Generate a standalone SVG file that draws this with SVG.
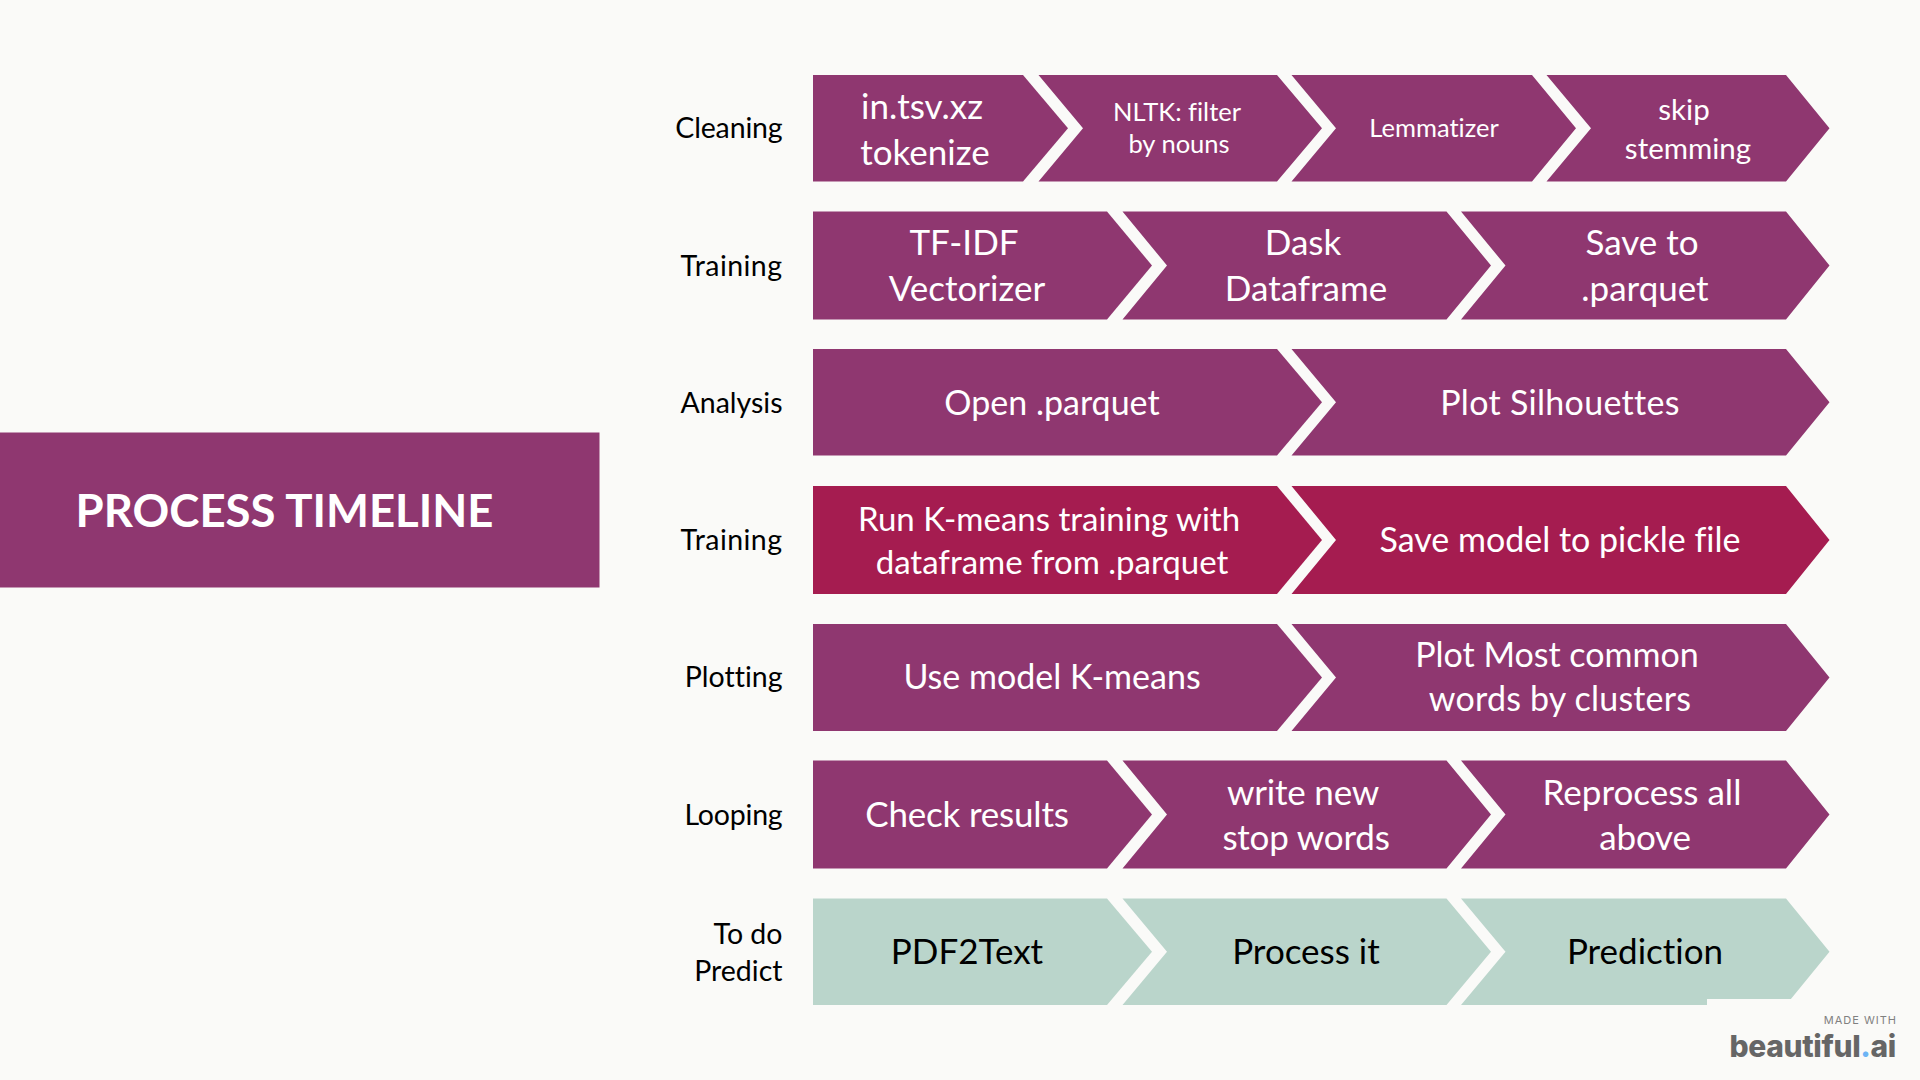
<svg xmlns="http://www.w3.org/2000/svg" width="1920" height="1080" viewBox="0 0 1920 1080">
<style>
text{font-family:Lato,"Liberation Sans",sans-serif;font-variant-ligatures:none}
.p{fill:#8f3770}.r{fill:#a51c50}.g{fill:#bad5cb}
.w{fill:#fff;text-anchor:middle}.k{fill:#000;text-anchor:middle}
.l{fill:#000;text-anchor:end;font-size:28.5px}
.s37{font-size:35px}.s25{font-size:25.5px}.s31{font-size:29.5px}.s34{font-size:34px}.s33{font-size:33px}
.wide{letter-spacing:.45px}
</style>
<rect width="1920" height="1080" fill="#fafaf8"/>
<g id="title"><rect class="p" x="0" y="432.5" width="599.5" height="155"/><text x="284.5" y="527" font-size="45.5" font-weight="700" fill="#fff" text-anchor="middle">PROCESS TIMELINE</text></g>
<g id="row-cleaning">
<text class="l" x="782.5" y="138" letter-spacing="-.15">Cleaning</text>
<polygon class="p" points="813,75 1023,75 1068,128.2 1023,181.5 813,181.5"/>
<polygon class="p" points="1038.5,75 1277,75 1322,128.2 1277,181.5 1038.5,181.5 1083,128.2"/>
<polygon class="p" points="1291.5,75 1532,75 1576,128.2 1532,181.5 1291.5,181.5 1336,128.2"/>
<polygon class="p" points="1546.5,75 1786,75 1829.5,128.2 1786,181.5 1546.5,181.5 1591,128.2"/>
<text class="w s37" x="922" y="119">in.tsv.xz</text><text class="w s37" x="925" y="164.5">tokenize</text>
<text class="w s25" x="1177" y="121">NLTK: filter</text><text class="w s25" x="1179" y="153">by nouns</text>
<text class="w s25" x="1434" y="137">Lemmatizer</text>
<text class="w s31" x="1684" y="120">skip</text><text class="w s31" x="1688" y="158.5">stemming</text>
</g>
<g id="row-training-1">
<text class="l wide" x="782.5" y="276">Training</text>
<polygon class="p" points="813,211.5 1107,211.5 1152,265.5 1107,319.5 813,319.5"/>
<polygon class="p" points="1122.5,211.5 1446.5,211.5 1491,265.5 1446.5,319.5 1122.5,319.5 1167,265.5"/>
<polygon class="p" points="1461,211.5 1786,211.5 1829.5,265.5 1786,319.5 1461,319.5 1505.5,265.5"/>
<text class="w s37" x="964" y="255">TF-IDF</text><text class="w s37" x="967" y="301">Vectorizer</text>
<text class="w s37" x="1303" y="255">Dask</text><text class="w s37" x="1306" y="301">Dataframe</text>
<text class="w s37" x="1642" y="255">Save to</text><text class="w s37" x="1645" y="301">.parquet</text>
</g>
<g id="row-analysis">
<text class="l" x="782.5" y="413">Analysis</text>
<polygon class="p" points="813,349 1277,349 1322,402.2 1277,455.5 813,455.5"/>
<polygon class="p" points="1291.5,349 1786,349 1829.5,402.2 1786,455.5 1291.5,455.5 1336,402.2"/>
<text class="w s34" x="1052" y="414.5">Open .parquet</text>
<text class="w s34" x="1560" y="414.5" letter-spacing=".3">Plot Silhouettes</text>
</g>
<g id="row-training-2">
<text class="l wide" x="782.5" y="550">Training</text>
<polygon class="r" points="813,486 1277,486 1322,540 1277,594 813,594"/>
<polygon class="r" points="1291.5,486 1786,486 1829.5,540 1786,594 1291.5,594 1336,540"/>
<text class="w s33" x="1049" y="530.5">Run K-means training with</text><text class="w s33" x="1052" y="573.5">dataframe from .parquet</text>
<text class="w s34" x="1560" y="551.5">Save model to pickle file</text>
</g>
<g id="row-plotting">
<text class="l" x="782.5" y="687">Plotting</text>
<polygon class="p" points="813,624 1277,624 1322,677.5 1277,731 813,731"/>
<polygon class="p" points="1291.5,624 1786,624 1829.5,677.5 1786,731 1291.5,731 1336,677.5"/>
<text class="w s34" x="1052" y="689">Use model K-means</text>
<text class="w s34" x="1557" y="667">Plot Most common</text><text class="w s34" x="1560" y="711" letter-spacing=".2">words by clusters</text>
</g>
<g id="row-looping">
<text class="l" x="782.5" y="825" letter-spacing="-.2">Looping</text>
<polygon class="p" points="813,760.5 1107,760.5 1152,814.5 1107,868.5 813,868.5"/>
<polygon class="p" points="1122.5,760.5 1446.5,760.5 1491,814.5 1446.5,868.5 1122.5,868.5 1167,814.5"/>
<polygon class="p" points="1461,760.5 1786,760.5 1829.5,814.5 1786,868.5 1461,868.5 1505.5,814.5"/>
<text class="w s37" x="967" y="827" letter-spacing="-.2">Check results</text>
<text class="w s37" x="1303" y="804.5" letter-spacing="-.2">write new</text><text class="w s37" x="1306" y="850" letter-spacing="-.2">stop words</text>
<text class="w s37" x="1642" y="804.5">Reprocess all</text><text class="w s37" x="1645" y="850" letter-spacing="-.2">above</text>
</g>
<g id="row-todo">
<text class="l" x="782.5" y="944">To do</text><text class="l" x="782.5" y="981">Predict</text>
<polygon class="g" points="813,898.5 1107,898.5 1152,951.7 1107,1005 813,1005"/>
<polygon class="g" points="1122.5,898.5 1446.5,898.5 1491,951.7 1446.5,1005 1122.5,1005 1167,951.7"/>
<polygon class="g" points="1461,898.5 1786,898.5 1829.5,951.7 1786,1005 1461,1005 1505.5,951.7"/>
<text class="k s37" x="967" y="964">PDF2Text</text>
<text class="k s37" x="1306" y="964">Process it</text>
<text class="k s37" x="1645" y="964">Prediction</text>
</g>
<g id="watermark">
<rect x="1707" y="999" width="213" height="81" fill="#fafaf8"/>
<text x="1897" y="1024" font-size="11" letter-spacing="1" fill="#808080" text-anchor="end" style="font-family:Inter,sans-serif">MADE WITH</text>
<text x="1896" y="1057" font-size="30" font-weight="800" letter-spacing="-.35" fill="#666" text-anchor="end" style="font-family:Inter,sans-serif">beautiful<tspan fill="#6db4f5">.</tspan>ai</text>
</g>
</svg>
